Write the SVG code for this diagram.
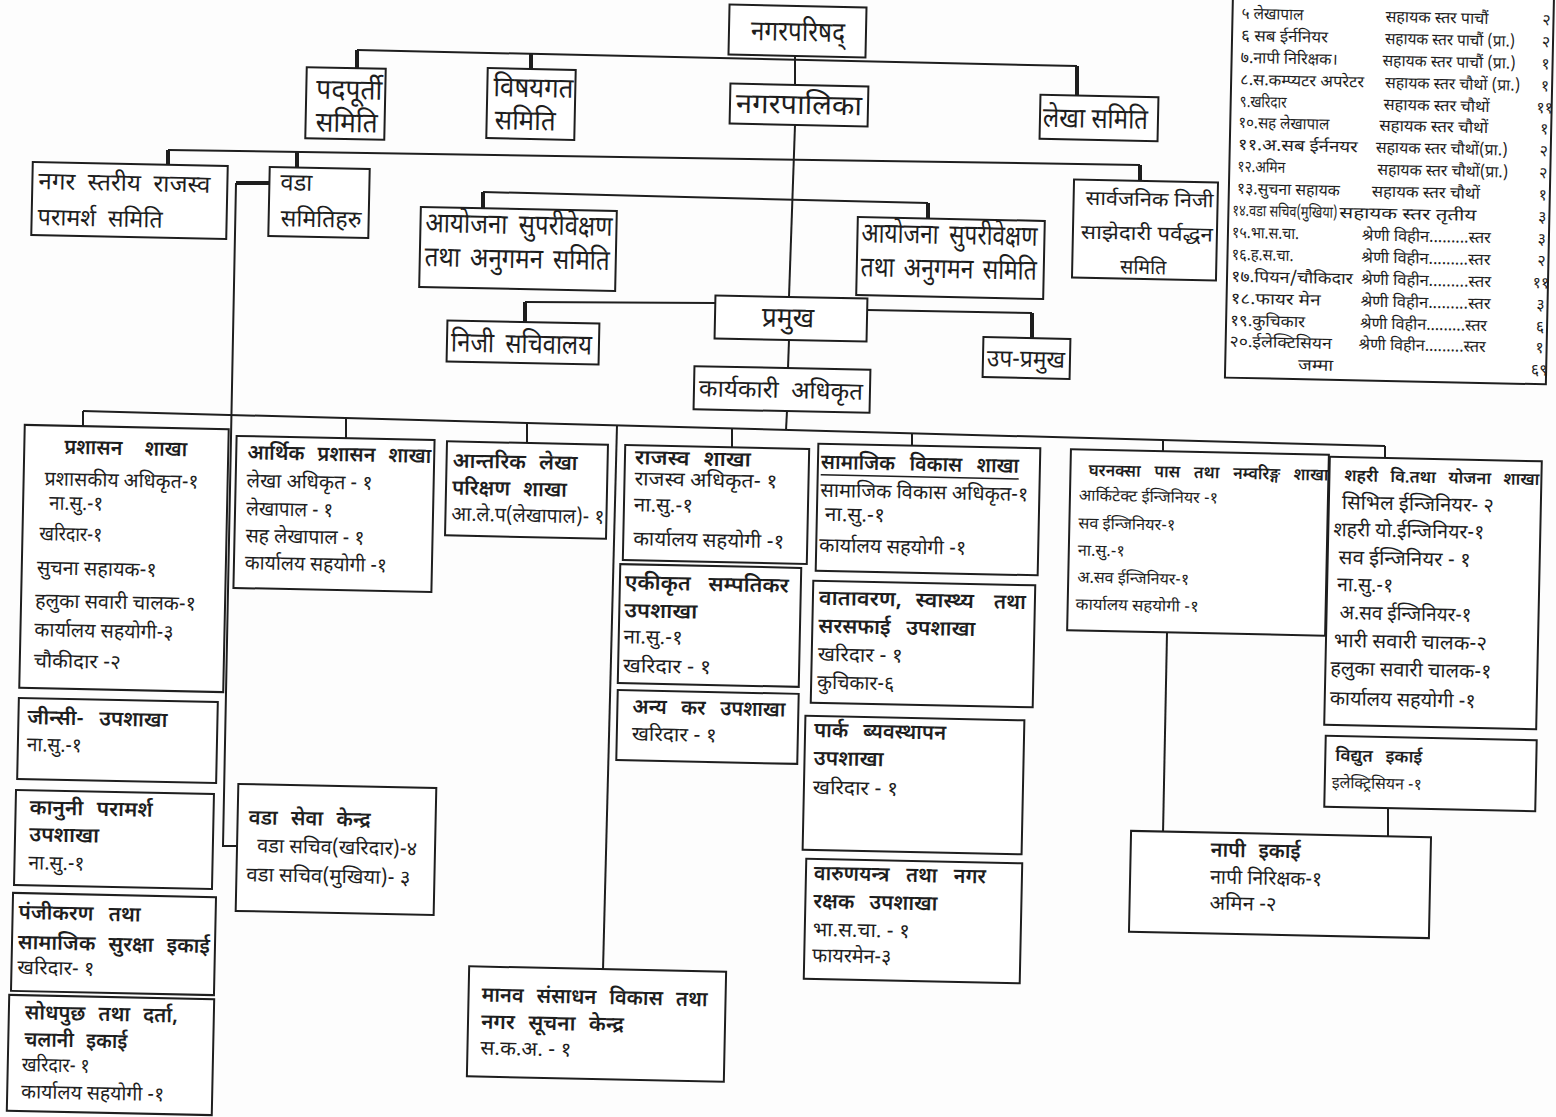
<svg xmlns="http://www.w3.org/2000/svg" width="1556" height="1117" viewBox="0 0 1556 1117">
<style>
text{font-family:'Noto Sans Devanagari','Noto Serif Devanagari','Lohit Devanagari','FreeSerif','Noto Sans',sans-serif;fill:#1e1e1e}
.bx{fill:#fff;stroke:#1e1e1e;stroke-width:2}
.c{fill:none;stroke:#1e1e1e;stroke-width:2}
.k{fill:none;stroke:#1e1e1e;stroke-width:4}
.h{font-size:28px}
.m{font-size:24px}
.tt{font-size:21px;font-weight:600}
.b{font-size:20px}
.s{font-size:16px}
.s2{font-size:17px;font-weight:600}
</style>
<rect x="0" y="0" width="1556" height="1117" fill="#fdfdfd"/>
<g id="connectors">
<polyline class="c" points="357,50 1077,66"/>
<line class="k" x1="357" y1="50" x2="357" y2="69"/>
<line class="k" x1="531" y1="54" x2="531" y2="69"/>
<line class="k" x1="1077" y1="66" x2="1077" y2="96"/>
<line class="c" x1="795" y1="56" x2="795" y2="85"/>
<line class="c" x1="795" y1="125" x2="789" y2="297"/>
<line class="c" x1="168" y1="150" x2="1140" y2="165"/>
<line class="k" x1="168" y1="150" x2="168" y2="165"/>
<line class="k" x1="297" y1="152" x2="297" y2="168"/>
<line class="k" x1="1140" y1="165" x2="1140" y2="181"/>
<line class="k" x1="269" y1="183" x2="236" y2="183"/>
<polyline class="c" points="236,183 223,846 237,846"/>
<line class="c" x1="483" y1="192" x2="928" y2="203"/>
<line class="k" x1="483" y1="192" x2="483" y2="210"/>
<line class="k" x1="928" y1="203" x2="928" y2="219"/>
<polyline class="c" points="715,303 525,302"/>
<line class="k" x1="525" y1="302" x2="525" y2="322"/>
<polyline class="c" points="867,310 1032,313"/>
<line class="k" x1="1032" y1="313" x2="1032" y2="338"/>
<line class="c" x1="789" y1="340" x2="788" y2="368"/>
<line class="c" x1="787" y1="411" x2="786" y2="430"/>
<line class="c" x1="83" y1="411" x2="1385" y2="446"/>
<line class="c" x1="83" y1="411" x2="83" y2="427"/>
<line class="c" x1="346" y1="418" x2="346" y2="438"/>
<line class="c" x1="527" y1="423" x2="527" y2="443"/>
<line class="c" x1="617" y1="425" x2="603" y2="970"/>
<line class="c" x1="732" y1="428" x2="732" y2="447"/>
<line class="c" x1="912" y1="433" x2="912" y2="446"/>
<line class="c" x1="1163" y1="440" x2="1163" y2="452"/>
<line class="c" x1="1385" y1="446" x2="1385" y2="459"/>
<line class="c" x1="1167" y1="633" x2="1163" y2="834"/>
<line class="c" x1="1388" y1="809" x2="1388" y2="837"/>
</g>

<g id="n-nagarparishad" transform="rotate(1.2 797 31)">
<rect class="bx" x="729" y="6" width="137" height="50"/>
<text class="h" x="751" y="41" textLength="94" lengthAdjust="spacingAndGlyphs">नगरपरिषद्</text>
</g>
<g id="n-padpurti" transform="rotate(1.2 345 104)">
<rect class="bx" x="306" y="68" width="79" height="71"/>
<text class="h" x="316" y="99" textLength="66" lengthAdjust="spacingAndGlyphs">पदपूर्ती</text>
<text class="h" x="316" y="132" textLength="62" lengthAdjust="spacingAndGlyphs">समिति</text>
</g>
<g id="n-vishayagat" transform="rotate(1.2 531 104)">
<rect class="bx" x="487" y="69" width="88" height="70"/>
<text class="h" x="493" y="97" textLength="80" lengthAdjust="spacingAndGlyphs">विषयगत</text>
<text class="h" x="495" y="130" textLength="61" lengthAdjust="spacingAndGlyphs">समिति</text>
</g>
<g id="n-nagarpalika" transform="rotate(1.2 799 105)">
<rect class="bx" x="730" y="85" width="138" height="40"/>
<text class="h" x="736" y="114" textLength="126" lengthAdjust="spacingAndGlyphs">नगरपालिका</text>
</g>
<g id="n-lekha-samiti" transform="rotate(1.2 1099 118)">
<rect class="bx" x="1040" y="96" width="118" height="44"/>
<text class="h" x="1043" y="128" textLength="105" lengthAdjust="spacingAndGlyphs">लेखा समिति</text>
</g>
<g id="n-rajaswa-paramarsha" transform="rotate(1.2 130 201)">
<rect class="bx" x="32" y="164" width="195" height="73"/>
<text class="m" x="38" y="191" textLength="172" lengthAdjust="spacingAndGlyphs" word-spacing="6">नगर स्तरीय राजस्व</text>
<text class="m" x="38" y="227" textLength="125" lengthAdjust="spacingAndGlyphs" word-spacing="6">परामर्श समिति</text>
</g>
<g id="n-wada-samiti" transform="rotate(1.2 319 203)">
<rect class="bx" x="269" y="168" width="100" height="69"/>
<text class="m" x="280" y="191" textLength="32" lengthAdjust="spacingAndGlyphs">वडा</text>
<text class="m" x="281" y="227" textLength="81" lengthAdjust="spacingAndGlyphs">समितिहरु</text>
</g>
<g id="n-sarvajanik" transform="rotate(1.2 1145 230)">
<rect class="bx" x="1073" y="181" width="144" height="98"/>
<text class="b" x="1085" y="206" textLength="128" lengthAdjust="spacingAndGlyphs">सार्वजनिक निजी</text>
<text class="b" x="1081" y="240" textLength="132" lengthAdjust="spacingAndGlyphs">साझेदारी पर्वद्धन</text>
<text class="b" x="1121" y="274" textLength="46" lengthAdjust="spacingAndGlyphs">समिति</text>
</g>
<g id="n-aayojana-1" transform="rotate(1.2 518 249)">
<rect class="bx" x="420" y="209" width="196" height="80"/>
<text class="h" x="425" y="234" textLength="187" lengthAdjust="spacingAndGlyphs" word-spacing="6">आयोजना सुपरीवेक्षण</text>
<text class="h" x="425" y="268" textLength="185" lengthAdjust="spacingAndGlyphs" word-spacing="4">तथा अनुगमन समिति</text>
</g>
<g id="n-aayojana-2" transform="rotate(1.2 950 258)">
<rect class="bx" x="857" y="219" width="187" height="78"/>
<text class="h" x="861" y="244" textLength="176" lengthAdjust="spacingAndGlyphs" word-spacing="6">आयोजना सुपरीवेक्षण</text>
<text class="h" x="861" y="278" textLength="176" lengthAdjust="spacingAndGlyphs" word-spacing="4">तथा अनुगमन समिति</text>
</g>
<g id="n-pramukh" transform="rotate(1.2 791 318)">
<rect class="bx" x="715" y="297" width="152" height="43"/>
<text class="h" x="762" y="327" textLength="52" lengthAdjust="spacingAndGlyphs">प्रमुख</text>
</g>
<g id="n-niji-sachivalaya" transform="rotate(1.2 523 342)">
<rect class="bx" x="447" y="322" width="152" height="41"/>
<text class="h" x="451" y="353" textLength="141" lengthAdjust="spacingAndGlyphs" word-spacing="6">निजी सचिवालय</text>
</g>
<g id="n-up-pramukh" transform="rotate(1.2 1026 358)">
<rect class="bx" x="983" y="338" width="87" height="40"/>
<text class="m" x="987" y="367" textLength="78" lengthAdjust="spacingAndGlyphs">उप-प्रमुख</text>
</g>
<g id="n-karyakari" transform="rotate(1.2 782 389)">
<rect class="bx" x="694" y="368" width="176" height="43"/>
<text class="m" x="699" y="398" textLength="164" lengthAdjust="spacingAndGlyphs" word-spacing="6">कार्यकारी अधिकृत</text>
</g>

<g id="n-prashasan" transform="rotate(1.2 124 558)">
<rect class="bx" x="22" y="427" width="204" height="263"/>
<text class="tt" x="62" y="455" textLength="123" lengthAdjust="spacingAndGlyphs" word-spacing="18">प्रशासन शाखा</text>
<text class="b" x="43" y="487" textLength="154" lengthAdjust="spacingAndGlyphs">प्रशासकीय अधिकृत-१</text>
<text class="b" x="48" y="511" textLength="54" lengthAdjust="spacingAndGlyphs">ना.सु.-१</text>
<text class="b" x="39" y="542" textLength="63" lengthAdjust="spacingAndGlyphs">खरिदार-१</text>
<text class="b" x="37" y="576" textLength="120" lengthAdjust="spacingAndGlyphs">सुचना सहायक-१</text>
<text class="b" x="36" y="609" textLength="161" lengthAdjust="spacingAndGlyphs">हलुका सवारी चालक-१</text>
<text class="b" x="36" y="638" textLength="139" lengthAdjust="spacingAndGlyphs">कार्यालय सहयोगी-३</text>
<text class="b" x="36" y="669" textLength="87" lengthAdjust="spacingAndGlyphs">चौकीदार -२</text>
</g>
<g id="n-arthik" transform="rotate(1.2 334 514)">
<rect class="bx" x="235" y="438" width="198" height="152"/>
<text class="tt" x="246" y="461" textLength="184" lengthAdjust="spacingAndGlyphs" word-spacing="8">आर्थिक प्रशासन शाखा</text>
<text class="b" x="246" y="489" textLength="126" lengthAdjust="spacingAndGlyphs">लेखा अधिकृत - १</text>
<text class="b" x="246" y="517" textLength="87" lengthAdjust="spacingAndGlyphs">लेखापाल - १</text>
<text class="b" x="246" y="544" textLength="119" lengthAdjust="spacingAndGlyphs">सह लेखापाल - १</text>
<text class="b" x="246" y="571" textLength="142" lengthAdjust="spacingAndGlyphs">कार्यालय सहयोगी -१</text>
</g>
<g id="n-jinsi" transform="rotate(1.2 117 740)">
<rect class="bx" x="18" y="700" width="199" height="81"/>
<text class="tt" x="27" y="726" textLength="140" lengthAdjust="spacingAndGlyphs" word-spacing="10">जीन्सी- उपशाखा</text>
<text class="b" x="27" y="753" textLength="55" lengthAdjust="spacingAndGlyphs">ना.सु.-१</text>
</g>
<g id="n-kanuni" transform="rotate(1.2 114 839)">
<rect class="bx" x="15" y="792" width="198" height="95"/>
<text class="tt" x="29" y="816" textLength="123" lengthAdjust="spacingAndGlyphs" word-spacing="8">कानुनी परामर्श</text>
<text class="tt" x="29" y="843" textLength="70" lengthAdjust="spacingAndGlyphs">उपशाखा</text>
<text class="b" x="29" y="871" textLength="56" lengthAdjust="spacingAndGlyphs">ना.सु.-१</text>
</g>
<g id="n-panjikaran" transform="rotate(1.2 113 944)">
<rect class="bx" x="12" y="895" width="203" height="98"/>
<text class="tt" x="18" y="921" textLength="122" lengthAdjust="spacingAndGlyphs" word-spacing="10">पंजीकरण तथा</text>
<text class="tt" x="18" y="951" textLength="192" lengthAdjust="spacingAndGlyphs" word-spacing="8">सामाजिक सुरक्षा इकाई</text>
<text class="b" x="18" y="976" textLength="77" lengthAdjust="spacingAndGlyphs">खरिदार- १</text>
</g>
<g id="n-sodhpuchh" transform="rotate(1.2 110 1055)">
<rect class="bx" x="8" y="997" width="205" height="116"/>
<text class="tt" x="24" y="1021" textLength="153" lengthAdjust="spacingAndGlyphs" word-spacing="8">सोधपुछ तथा दर्ता,</text>
<text class="tt" x="24" y="1048" textLength="103" lengthAdjust="spacingAndGlyphs" word-spacing="8">चलानी इकाई</text>
<text class="b" x="22" y="1073" textLength="68" lengthAdjust="spacingAndGlyphs">खरिदार- १</text>
<text class="b" x="22" y="1100" textLength="143" lengthAdjust="spacingAndGlyphs">कार्यालय सहयोगी -१</text>
</g>
<g id="n-wada-sewa" transform="rotate(1.2 336 849)">
<rect class="bx" x="237" y="786" width="198" height="127"/>
<text class="tt" x="248" y="826" textLength="122" lengthAdjust="spacingAndGlyphs" word-spacing="8">वडा सेवा केन्द्र</text>
<text class="b" x="257" y="854" textLength="160" lengthAdjust="spacingAndGlyphs">वडा सचिव(खरिदार)-४</text>
<text class="b" x="247" y="883" textLength="164" lengthAdjust="spacingAndGlyphs">वडा सचिव(मुखिया)- ३</text>
</g>
<g id="n-antarik" transform="rotate(1.2 526 490)">
<rect class="bx" x="446" y="443" width="161" height="94"/>
<text class="tt" x="452" y="469" textLength="125" lengthAdjust="spacingAndGlyphs" word-spacing="8">आन्तरिक लेखा</text>
<text class="tt" x="452" y="496" textLength="115" lengthAdjust="spacingAndGlyphs" word-spacing="8">परिक्षण शाखा</text>
<text class="b" x="452" y="522" textLength="153" lengthAdjust="spacingAndGlyphs">आ.ले.प(लेखापाल)- १</text>
</g>
<g id="n-rajaswa" transform="rotate(1.2 716 505)">
<rect class="bx" x="624" y="447" width="184" height="115"/>
<text class="tt" x="634" y="466" textLength="116" lengthAdjust="spacingAndGlyphs" word-spacing="8">राजस्व शाखा</text>
<text class="b" x="634" y="487" textLength="143" lengthAdjust="spacingAndGlyphs">राजस्व अधिकृत- १</text>
<text class="b" x="634" y="513" textLength="59" lengthAdjust="spacingAndGlyphs">ना.सु.-१</text>
<text class="b" x="634" y="547" textLength="151" lengthAdjust="spacingAndGlyphs">कार्यालय सहयोगी -१</text>
</g>
<g id="n-ekikrit" transform="rotate(1.2 710 626)">
<rect class="bx" x="619" y="566" width="181" height="119"/>
<text class="tt" x="624" y="591" textLength="164" lengthAdjust="spacingAndGlyphs" word-spacing="12">एकीकृत सम्पतिकर</text>
<text class="tt" x="624" y="619" textLength="73" lengthAdjust="spacingAndGlyphs">उपशाखा</text>
<text class="b" x="624" y="645" textLength="59" lengthAdjust="spacingAndGlyphs">ना.सु.-१</text>
<text class="b" x="624" y="674" textLength="88" lengthAdjust="spacingAndGlyphs">खरिदार - १</text>
</g>
<g id="n-anya-kar" transform="rotate(1.2 708 727)">
<rect class="bx" x="617" y="692" width="181" height="70"/>
<text class="tt" x="632" y="715" textLength="153" lengthAdjust="spacingAndGlyphs" word-spacing="10">अन्य कर उपशाखा</text>
<text class="b" x="632" y="742" textLength="85" lengthAdjust="spacingAndGlyphs">खरिदार - १</text>
</g>
<g id="n-manav" transform="rotate(1.2 597 1024)">
<rect class="bx" x="468" y="969" width="257" height="110"/>
<text class="tt" x="481" y="1004" textLength="226" lengthAdjust="spacingAndGlyphs" word-spacing="8">मानव संसाधन विकास तथा</text>
<text class="tt" x="481" y="1031" textLength="143" lengthAdjust="spacingAndGlyphs" word-spacing="8">नगर सूचना केन्द्र</text>
<text class="b" x="481" y="1057" textLength="91" lengthAdjust="spacingAndGlyphs">स.क.अ. - १</text>
</g>
<g id="n-samajik" transform="rotate(1.2 928 510)">
<rect class="bx" x="817" y="446" width="222" height="127"/>
<text class="tt" x="820" y="471" textLength="198" lengthAdjust="spacingAndGlyphs" word-spacing="10">सामाजिक विकास शाखा</text>
<line x1="820" y1="477" x2="1018" y2="477" stroke="#1e1e1e" stroke-width="1.5"/>
<text class="b" x="820" y="499" textLength="208" lengthAdjust="spacingAndGlyphs">सामाजिक विकास अधिकृत-१</text>
<text class="b" x="825" y="523" textLength="60" lengthAdjust="spacingAndGlyphs">ना.सु.-१</text>
<text class="b" x="820" y="554" textLength="147" lengthAdjust="spacingAndGlyphs">कार्यालय सहयोगी -१</text>
</g>
<g id="n-vatavaran" transform="rotate(1.2 923 644)">
<rect class="bx" x="812" y="583" width="222" height="122"/>
<text class="tt" x="818" y="607" textLength="155" lengthAdjust="spacingAndGlyphs" word-spacing="8">वातावरण, स्वास्थ्य</text>
<text class="tt" x="993" y="607" textLength="32" lengthAdjust="spacingAndGlyphs">तथा</text>
<text class="tt" x="818" y="635" textLength="157" lengthAdjust="spacingAndGlyphs" word-spacing="10">सरसफाई उपशाखा</text>
<text class="b" x="818" y="663" textLength="85" lengthAdjust="spacingAndGlyphs">खरिदार - १</text>
<text class="b" x="818" y="691" textLength="77" lengthAdjust="spacingAndGlyphs">कुचिकार-६</text>
</g>
<g id="n-park" transform="rotate(1.2 913 785)">
<rect class="bx" x="804" y="718" width="219" height="134"/>
<text class="tt" x="813" y="739" textLength="132" lengthAdjust="spacingAndGlyphs" word-spacing="10">पार्क ब्यवस्थापन</text>
<text class="tt" x="813" y="767" textLength="70" lengthAdjust="spacingAndGlyphs">उपशाखा</text>
<text class="b" x="813" y="796" textLength="85" lengthAdjust="spacingAndGlyphs">खरिदार - १</text>
</g>
<g id="n-varunayantra" transform="rotate(1.2 913 921)">
<rect class="bx" x="805" y="861" width="216" height="120"/>
<text class="tt" x="813" y="882" textLength="172" lengthAdjust="spacingAndGlyphs" word-spacing="12">वारुणयन्त्र तथा नगर</text>
<text class="tt" x="813" y="910" textLength="124" lengthAdjust="spacingAndGlyphs" word-spacing="10">रक्षक उपशाखा</text>
<text class="b" x="813" y="938" textLength="97" lengthAdjust="spacingAndGlyphs">भा.स.चा. - १</text>
<text class="b" x="813" y="964" textLength="79" lengthAdjust="spacingAndGlyphs">फायरमेन-३</text>
</g>
<g id="n-gharnaksa" transform="rotate(1.2 1198 543)">
<rect class="bx" x="1069" y="452" width="258" height="181"/>
<text class="s2" x="1087" y="478" textLength="240" lengthAdjust="spacingAndGlyphs" word-spacing="10">घरनक्सा पास तथा नम्वरिङ्ग शाखा</text>
<text class="s" x="1078" y="503" textLength="139" lengthAdjust="spacingAndGlyphs">आर्किटेक्ट ईन्जिनियर -१</text>
<text class="s" x="1078" y="531" textLength="97" lengthAdjust="spacingAndGlyphs">सव ईन्जिनियर-१</text>
<text class="s" x="1078" y="558" textLength="47" lengthAdjust="spacingAndGlyphs">ना.सु.-१</text>
<text class="s" x="1078" y="585" textLength="112" lengthAdjust="spacingAndGlyphs">अ.सव ईन्जिनियर-१</text>
<text class="s" x="1077" y="612" textLength="123" lengthAdjust="spacingAndGlyphs">कार्यालय सहयोगी -१</text>
</g>
<g id="n-shahari" transform="rotate(1.2 1433 593)">
<rect class="bx" x="1327" y="459" width="212" height="268"/>
<text class="s2" x="1342" y="483" textLength="195" lengthAdjust="spacingAndGlyphs" word-spacing="8">शहरी वि.तथा योजना शाखा</text>
<text class="b" x="1340" y="511" textLength="152" lengthAdjust="spacingAndGlyphs">सिभिल ईन्जिनियर- २</text>
<text class="b" x="1332" y="538" textLength="151" lengthAdjust="spacingAndGlyphs">शहरी यो.ईन्जिनियर-१</text>
<text class="b" x="1338" y="566" textLength="132" lengthAdjust="spacingAndGlyphs">सव ईन्जिनियर - १</text>
<text class="b" x="1337" y="593" textLength="56" lengthAdjust="spacingAndGlyphs">ना.सु.-१</text>
<text class="b" x="1340" y="621" textLength="132" lengthAdjust="spacingAndGlyphs">अ.सव ईन्जिनियर-१</text>
<text class="b" x="1335" y="649" textLength="153" lengthAdjust="spacingAndGlyphs">भारी सवारी चालक-२</text>
<text class="b" x="1332" y="677" textLength="161" lengthAdjust="spacingAndGlyphs">हलुका सवारी चालक-१</text>
<text class="b" x="1332" y="707" textLength="146" lengthAdjust="spacingAndGlyphs">कार्यालय सहयोगी -१</text>
</g>
<g id="n-vidyut" transform="rotate(1.2 1430 773)">
<rect class="bx" x="1325" y="738" width="211" height="71"/>
<text class="s2" x="1335" y="763" textLength="87" lengthAdjust="spacingAndGlyphs" word-spacing="8">विद्युत इकाई</text>
<text class="s" x="1332" y="790" textLength="90" lengthAdjust="spacingAndGlyphs">इलेक्ट्रिसियन -१</text>
</g>
<g id="n-napi" transform="rotate(1.2 1280 884)">
<rect class="bx" x="1130" y="834" width="300" height="101"/>
<text class="tt" x="1210" y="858" textLength="90" lengthAdjust="spacingAndGlyphs" word-spacing="8">नापी इकाई</text>
<text class="b" x="1210" y="885" textLength="112" lengthAdjust="spacingAndGlyphs">नापी निरिक्षक-१</text>
<text class="b" x="1210" y="911" textLength="67" lengthAdjust="spacingAndGlyphs">अमिन -२</text>
</g>

<g id="n-table" transform="rotate(1.2 1389 185)">
<rect class="bx" x="1229" y="-10" width="321" height="391"/>
<text class="s" x="1238" y="22" textLength="62" lengthAdjust="spacingAndGlyphs">५ लेखापाल</text>
<text class="s" x="1382" y="22" textLength="103" lengthAdjust="spacingAndGlyphs">सहायक स्तर पाचौं</text>
<text class="s" x="1543" y="22" text-anchor="middle">२</text>
<text class="s" x="1238" y="44" textLength="87" lengthAdjust="spacingAndGlyphs">६ सब ईर्ननियर</text>
<text class="s" x="1382" y="44" textLength="130" lengthAdjust="spacingAndGlyphs">सहायक स्तर पाचौं (प्रा.)</text>
<text class="s" x="1543" y="44" text-anchor="middle">२</text>
<text class="s" x="1238" y="66" textLength="97" lengthAdjust="spacingAndGlyphs">७.नापी निरिक्षक।</text>
<text class="s" x="1380" y="66" textLength="133" lengthAdjust="spacingAndGlyphs">सहायक स्तर पाचौं (प्रा.)</text>
<text class="s" x="1543" y="66" text-anchor="middle">१</text>
<text class="s" x="1238" y="88" textLength="124" lengthAdjust="spacingAndGlyphs">८.स.कम्प्यटर अपरेटर</text>
<text class="s" x="1383" y="88" textLength="135" lengthAdjust="spacingAndGlyphs">सहायक स्तर चौथों (प्रा.)</text>
<text class="s" x="1543" y="88" text-anchor="middle">१</text>
<text class="s" x="1238" y="110" textLength="47" lengthAdjust="spacingAndGlyphs">९.खरिदार</text>
<text class="s" x="1382" y="110" textLength="106" lengthAdjust="spacingAndGlyphs">सहायक स्तर चौथों</text>
<text class="s" x="1543" y="110" text-anchor="middle">११</text>
<text class="s" x="1237" y="131" textLength="91" lengthAdjust="spacingAndGlyphs">१०.सह लेखापाल</text>
<text class="s" x="1378" y="131" textLength="109" lengthAdjust="spacingAndGlyphs">सहायक स्तर चौथों</text>
<text class="s" x="1543" y="131" text-anchor="middle">१</text>
<text class="s" x="1237" y="153" textLength="120" lengthAdjust="spacingAndGlyphs">११.अ.सब ईर्ननयर</text>
<text class="s" x="1375" y="153" textLength="132" lengthAdjust="spacingAndGlyphs">सहायक स्तर चौथों(प्रा.)</text>
<text class="s" x="1543" y="153" text-anchor="middle">२</text>
<text class="s" x="1237" y="175" textLength="48" lengthAdjust="spacingAndGlyphs">१२.अमिन</text>
<text class="s" x="1377" y="175" textLength="131" lengthAdjust="spacingAndGlyphs">सहायक स्तर चौथों(प्रा.)</text>
<text class="s" x="1543" y="175" text-anchor="middle">२</text>
<text class="s" x="1237" y="197" textLength="103" lengthAdjust="spacingAndGlyphs">१३.सुचना सहायक</text>
<text class="s" x="1372" y="197" textLength="108" lengthAdjust="spacingAndGlyphs">सहायक स्तर चौथों</text>
<text class="s" x="1543" y="197" text-anchor="middle">१</text>
<text class="s" x="1233" y="219" textLength="105" lengthAdjust="spacingAndGlyphs">१४.वडा सचिव(मुखिया)</text>
<text class="s" x="1340" y="219" textLength="137" lengthAdjust="spacingAndGlyphs">सहायक स्तर तृतीय</text>
<text class="s" x="1543" y="219" text-anchor="middle">३</text>
<text class="s" x="1233" y="241" textLength="67" lengthAdjust="spacingAndGlyphs">१५.भा.स.चा.</text>
<text class="s" x="1363" y="241" textLength="129" lengthAdjust="spacingAndGlyphs">श्रेणी विहीन.........स्तर</text>
<text class="s" x="1543" y="241" text-anchor="middle">३</text>
<text class="s" x="1233" y="263" textLength="62" lengthAdjust="spacingAndGlyphs">१६.ह.स.चा.</text>
<text class="s" x="1363" y="263" textLength="129" lengthAdjust="spacingAndGlyphs">श्रेणी विहीन.........स्तर</text>
<text class="s" x="1543" y="263" text-anchor="middle">२</text>
<text class="s" x="1233" y="285" textLength="122" lengthAdjust="spacingAndGlyphs">१७.पियन/चौकिदार</text>
<text class="s" x="1363" y="285" textLength="130" lengthAdjust="spacingAndGlyphs">श्रेणी विहीन.........स्तर</text>
<text class="s" x="1543" y="285" text-anchor="middle">११</text>
<text class="s" x="1233" y="307" textLength="90" lengthAdjust="spacingAndGlyphs">१८.फायर मेन</text>
<text class="s" x="1363" y="307" textLength="130" lengthAdjust="spacingAndGlyphs">श्रेणी विहीन.........स्तर</text>
<text class="s" x="1543" y="307" text-anchor="middle">३</text>
<text class="s" x="1233" y="329" textLength="75" lengthAdjust="spacingAndGlyphs">१९.कुचिकार</text>
<text class="s" x="1363" y="329" textLength="127" lengthAdjust="spacingAndGlyphs">श्रेणी विहीन.........स्तर</text>
<text class="s" x="1543" y="329" text-anchor="middle">६</text>
<text class="s" x="1233" y="350" textLength="102" lengthAdjust="spacingAndGlyphs">२०.ईलेक्टिसियन</text>
<text class="s" x="1362" y="350" textLength="127" lengthAdjust="spacingAndGlyphs">श्रेणी विहीन.........स्तर</text>
<text class="s" x="1543" y="350" text-anchor="middle">१</text>
<text class="s" x="1302" y="372" textLength="35" lengthAdjust="spacingAndGlyphs">जम्मा</text>
<text class="s" x="1543" y="372" text-anchor="middle">६९</text>
</g>
</svg>
